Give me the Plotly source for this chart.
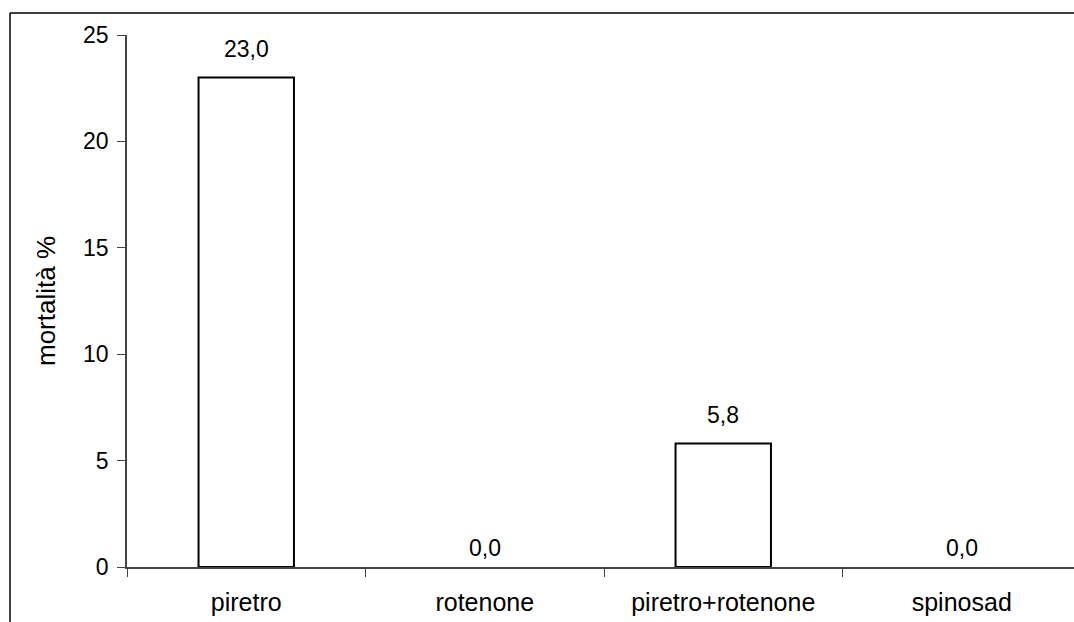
import plotly.graph_objects as go

categories = ["piretro", "rotenone", "piretro+rotenone", "spinosad"]
mortality = [23.0, 0.0, 5.8, 0.0]
y_ticks = [0, 5, 10, 15, 20, 25]

W, H = 1074, 622
L, T, B = 127, 35, 55
cat_w = 238.5  # pixel width of one category slot
plot_w = W - L
x_max = -0.5 + plot_w / cat_w

family = "Liberation Sans, Arial, sans-serif"
tick_font = dict(family=family, size=23, color="black")
cat_font = dict(family=family, size=25, color="black")
label_font = dict(family=family, size=23, color="black")
title_font = dict(family=family, size=26, color="black")

fig = go.Figure()
fig.add_trace(go.Bar(
    x=categories,
    y=mortality,
    width=0.4,
    marker=dict(
        color="white",
        line=dict(color="black", width=[2 if v > 0 else 0 for v in mortality]),
    ),
    hoverinfo="skip",
))

# value labels above each bar (decimal comma)
for c, v in zip(categories, mortality):
    fig.add_annotation(
        x=c, y=v, text=f"{v:.1f}".replace(".", ","),
        showarrow=False, yanchor="bottom", yshift=14 if v > 0 else 4,
        font=label_font,
    )

# outer chart frame (left and top edges)
px = lambda x: (x - L) / plot_w
py = lambda y: (H - B - y) / (H - T - B)
fig.add_shape(type="line", xref="paper", yref="paper",
              x0=px(10), x1=px(W + 10), y0=py(13), y1=py(13),
              line=dict(color="black", width=1.5))
fig.add_shape(type="line", xref="paper", yref="paper",
              x0=px(10), x1=px(10), y0=py(13), y1=py(H + 10),
              line=dict(color="black", width=1.5))

fig.update_layout(
    width=W, height=H,
    margin=dict(l=L, r=0, t=T, b=B),
    paper_bgcolor="white", plot_bgcolor="white",
    showlegend=False,
    font=tick_font,
    xaxis=dict(
        type="category", range=[-0.5, x_max],
        showline=True, linecolor="#444", linewidth=1.5,
        ticks="outside", ticklen=8, tickcolor="#444", tickwidth=1,
        tickson="boundaries", showgrid=False, zeroline=False,
        tickfont=cat_font, ticklabelstandoff=12,
    ),
    yaxis=dict(
        range=[0, 25], tickvals=y_ticks,
        showline=True, linecolor="#444", linewidth=1.5,
        ticks="outside", ticklen=8, tickcolor="#444", tickwidth=1,
        showgrid=False, zeroline=False, tickfont=tick_font,
        ticklabelstandoff=4,
        title=dict(text="mortalità %", font=title_font, standoff=20),
    ),
)

fig.write_html("out.html")
